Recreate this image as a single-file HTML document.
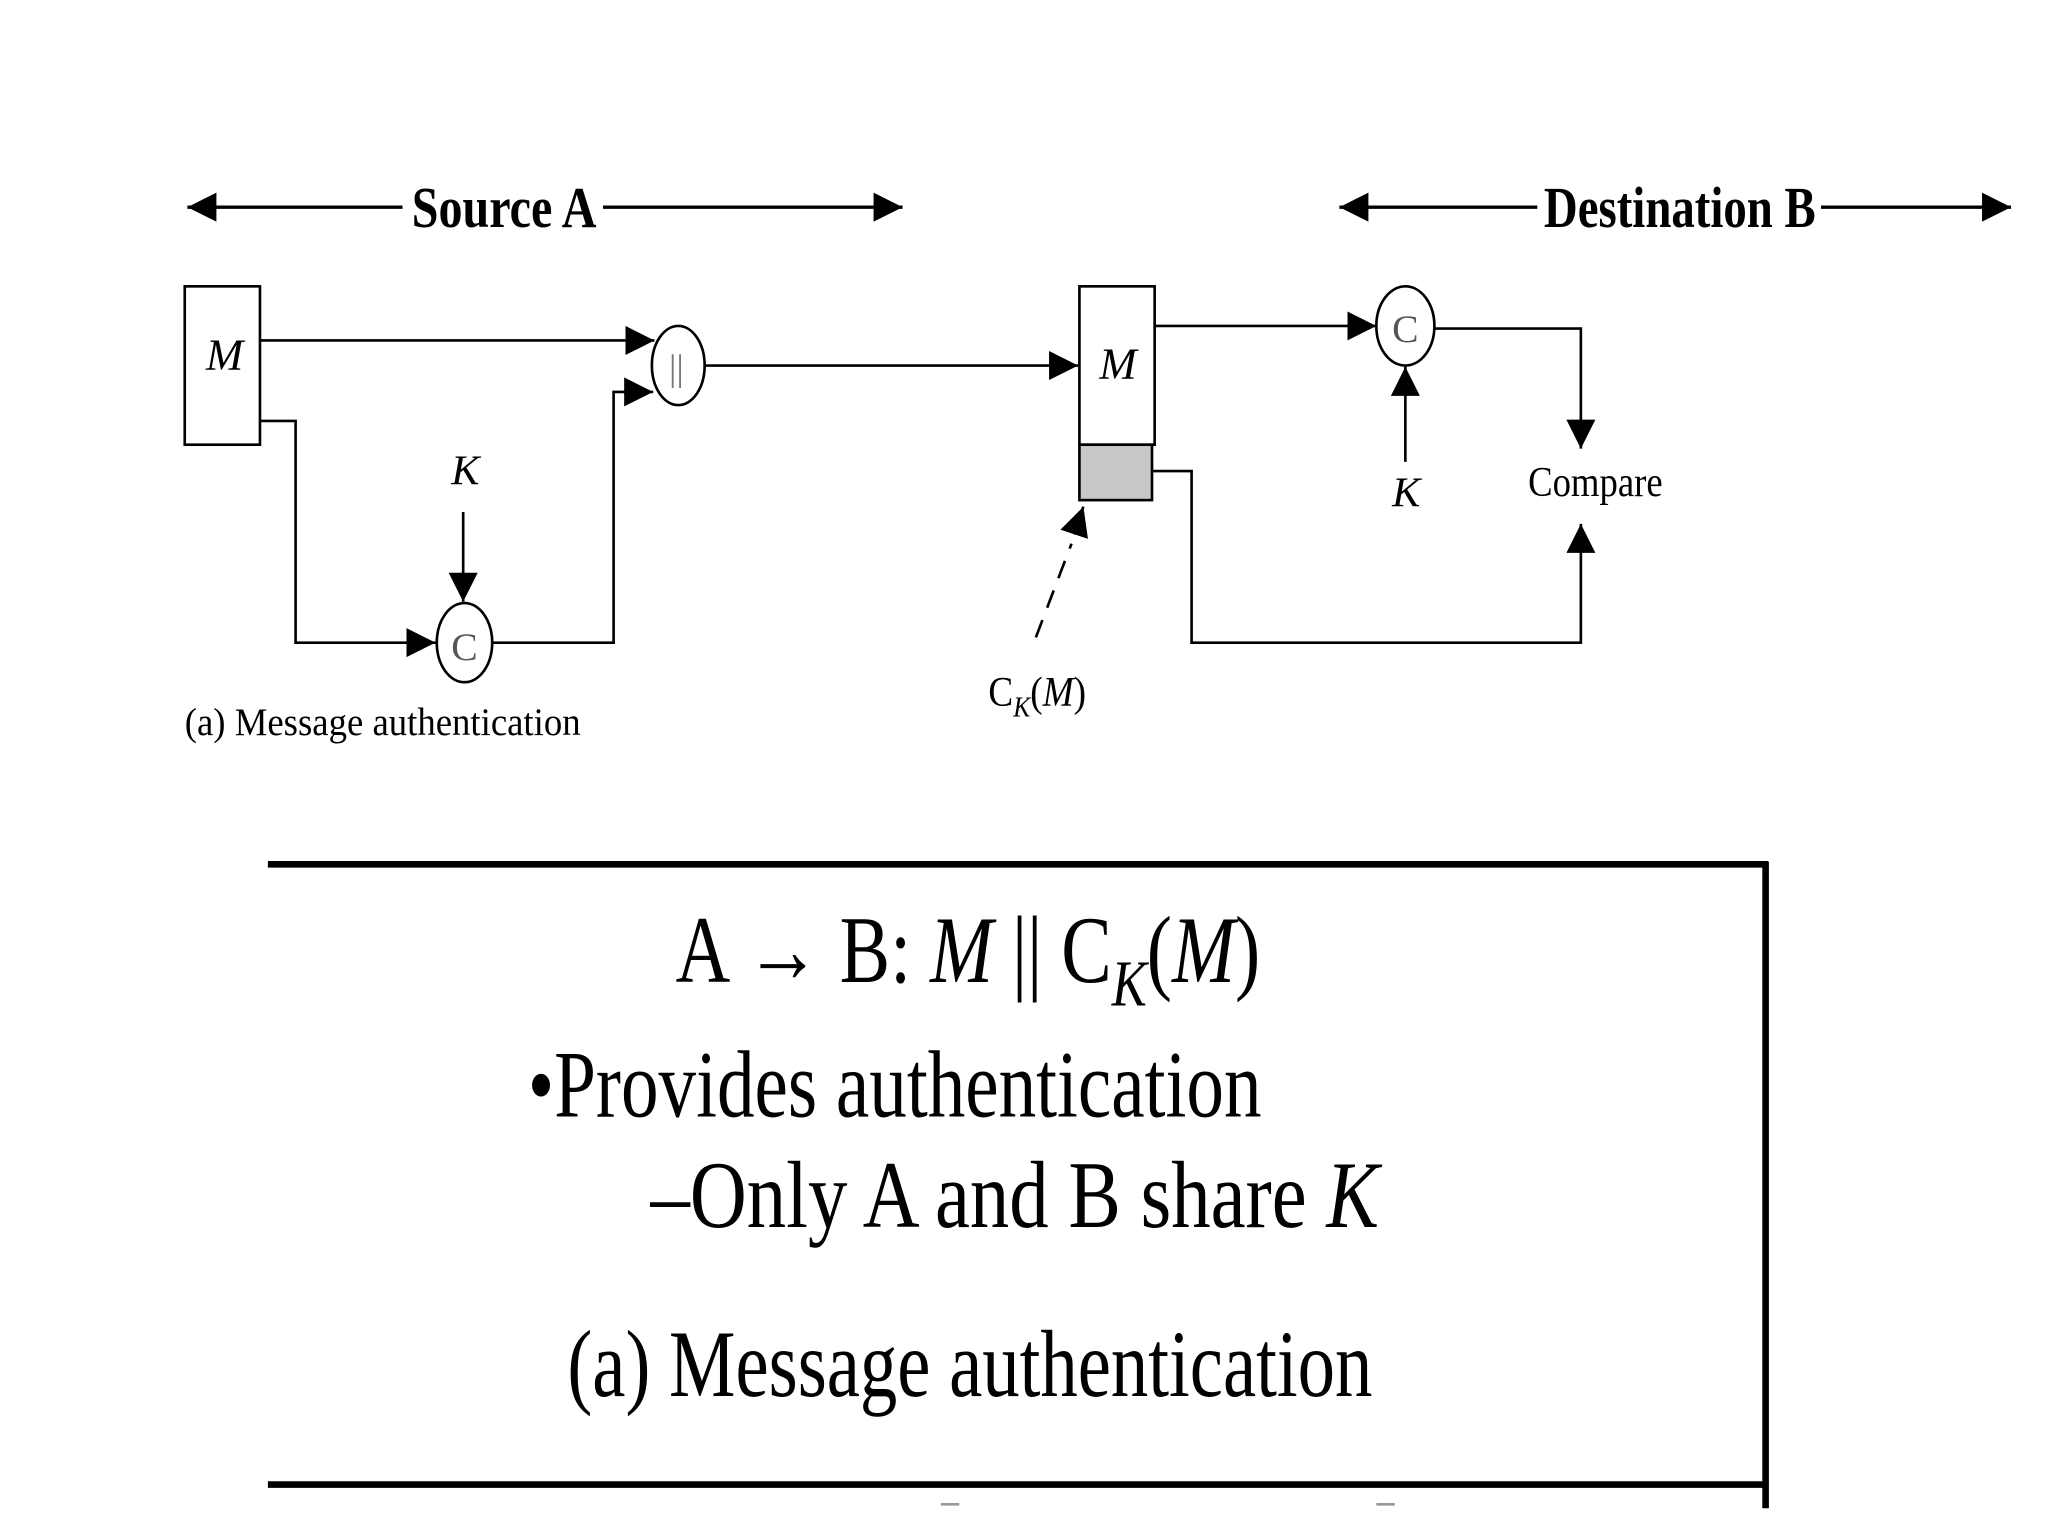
<!DOCTYPE html>
<html><head><meta charset="utf-8"><style>html,body{margin:0;padding:0;background:#fff;}svg{display:block}</style></head>
<body>
<svg width="2048" height="1536" viewBox="0 0 1552 1164" preserveAspectRatio="none" xmlns="http://www.w3.org/2000/svg" font-family="'Liberation Serif', serif">
<defs>
<marker id="ah" viewBox="0 0 10 10" refX="10" refY="5" markerWidth="22" markerHeight="22" markerUnits="userSpaceOnUse" orient="auto"><path d="M0,0 L10,5 L0,10 z" fill="#000"/></marker>
</defs>
<rect width="1552" height="1164" fill="#fff"/>
<g stroke="#000" stroke-width="2.5" fill="none">
<line x1="305" y1="157" x2="142" y2="157" marker-end="url(#ah)"/>
<line x1="457" y1="157" x2="684" y2="157" marker-end="url(#ah)"/>
<line x1="1165" y1="157" x2="1015" y2="157" marker-end="url(#ah)"/>
<line x1="1380" y1="157" x2="1524" y2="157" marker-end="url(#ah)"/>
</g>
<text x="312" y="172" font-size="44" font-weight="bold" textLength="140" lengthAdjust="spacingAndGlyphs">Source A</text>
<text x="1170" y="172" font-size="44" font-weight="bold" textLength="206" lengthAdjust="spacingAndGlyphs">Destination B</text>
<g stroke="#000" stroke-width="2" fill="none">
<rect x="140" y="217" width="57" height="120" fill="#fff"/>
<line x1="197" y1="258" x2="496" y2="258" marker-end="url(#ah)"/>
<polyline points="197,319 224,319 224,487 330,487" marker-end="url(#ah)"/>
<line x1="351" y1="388" x2="351" y2="456" marker-end="url(#ah)"/>
<ellipse cx="352" cy="487" rx="21" ry="30" fill="#fff"/>
<polyline points="373,487 465,487 465,297 495,297" marker-end="url(#ah)"/>
<ellipse cx="514" cy="277" rx="20" ry="30" fill="#fff"/>
<line x1="534" y1="277" x2="817" y2="277" marker-end="url(#ah)"/>
<rect x="818" y="217" width="57" height="120" fill="#fff"/>
<rect x="818" y="337" width="55" height="42" fill="#c8c8c8"/>
<polyline points="873,357 903,357 903,487 1198,487 1198,397" marker-end="url(#ah)"/>
<line x1="785" y1="483" x2="812" y2="412" stroke-dasharray="14,10"/>
<line x1="814" y1="405" x2="821" y2="384" marker-end="url(#ah)"/>
<line x1="875" y1="247" x2="1043" y2="247" marker-end="url(#ah)"/>
<ellipse cx="1065" cy="247" rx="22" ry="30" fill="#fff"/>
<line x1="1065" y1="350" x2="1065" y2="278" marker-end="url(#ah)"/>
<polyline points="1087,249 1198,249 1198,340" marker-end="url(#ah)"/>
</g>
<g font-size="34" fill="#000">
<text x="156" y="280" font-style="italic">M</text>
<text x="833" y="287" font-style="italic">M</text>
<text x="342" y="367" font-style="italic" font-size="32">K</text>
<text x="1055" y="384" font-style="italic" font-size="32">K</text>
<text x="342" y="500" font-size="30" fill="#555">C</text>
<text x="1055" y="259" font-size="30" fill="#555">C</text>
<text x="507" y="288" font-size="28" fill="#777">||</text>
<text x="1158" y="376" font-size="32" textLength="102" lengthAdjust="spacingAndGlyphs">Compare</text>
<text x="749" y="535" font-size="32" textLength="74" lengthAdjust="spacingAndGlyphs">C<tspan font-size="22" font-style="italic" dy="8">K</tspan><tspan dy="-8">(</tspan><tspan font-style="italic">M</tspan>)</text>
<text x="140" y="557" font-size="30" textLength="300" lengthAdjust="spacingAndGlyphs">(a) Message authentication</text>
</g>
<g stroke="#000" stroke-width="5">
<line x1="203" y1="655" x2="1340" y2="655"/>
<line x1="1338" y1="653" x2="1338" y2="1143"/>
<line x1="203" y1="1125" x2="1340" y2="1125"/>
</g>
<line x1="713" y1="1140" x2="727" y2="1140" stroke="#999" stroke-width="2"/>
<line x1="1043" y1="1140" x2="1057" y2="1140" stroke="#999" stroke-width="2"/>
<g font-size="72" fill="#000">
<text x="512" y="744" textLength="443" lengthAdjust="spacingAndGlyphs">A → B: <tspan font-style="italic">M</tspan> || C<tspan font-style="italic" font-size="50" dy="18">K</tspan><tspan dy="-18">(</tspan><tspan font-style="italic">M</tspan>)</text>
<text x="400" y="846" textLength="556" lengthAdjust="spacingAndGlyphs">•Provides authentication</text>
<text x="493" y="930" textLength="552" lengthAdjust="spacingAndGlyphs">–Only A and B share <tspan font-style="italic">K</tspan></text>
<text x="430" y="1058" textLength="610" lengthAdjust="spacingAndGlyphs">(a) Message authentication</text>
</g>
</svg>
</body></html>
